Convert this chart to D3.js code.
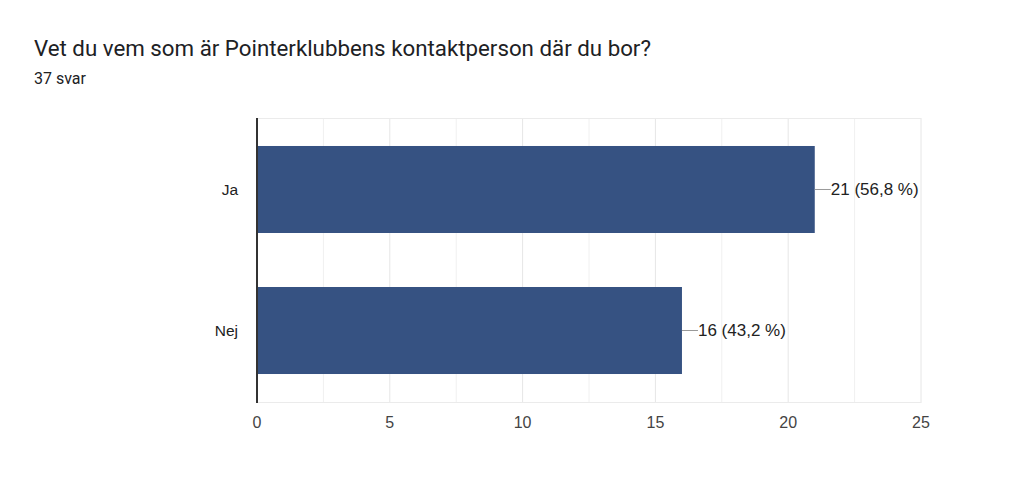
<!DOCTYPE html>
<html><head><meta charset="utf-8">
<script src="https://cdn.jsdelivr.net/npm/d3@7"></script>
<style>body{margin:0;background:#fff;}</style>
</head><body>
<svg id="c" width="1024" height="487"></svg>
<script>
const categories = ["Ja", "Nej"];
const values = [21, 16];
const labels = ["21 (56,8 %)", "16 (43,2 %)"];
const xTicks = [0, 5, 10, 15, 20, 25];
const gridTicks = [2.5, 5, 7.5, 10, 12.5, 15, 17.5, 20, 22.5, 25];
const title = "Vet du vem som är Pointerklubbens kontaktperson där du bor?";
const subtitle = "37 svar";

const svg = d3.select("#c");
svg.append("rect").attr("width",1024).attr("height",487).attr("fill","#fff");
svg.append("text").attr("x",34).attr("y",56).attr("font-family","Roboto").attr("font-size",22.3).attr("fill","#202124").text(title);
svg.append("text").attr("x",34).attr("y",84).attr("font-family","Roboto").attr("font-size",16).attr("fill","#202124").text(subtitle);

const L=257, R=921, T=118, B=403;
const x = d3.scaleLinear().domain([0,25]).range([L,R]);
const y = d3.scaleBand().domain(categories).range([119.2,400.8]).paddingInner(0.383).paddingOuter(0.19);

const g = svg.append("g");
g.selectAll("line.grid").data(gridTicks).join("line").attr("class","grid")
  .attr("x1",d=>x(d)).attr("x2",d=>x(d)).attr("y1",T).attr("y2",B)
  .attr("stroke",d=>d%5===0?"#e6e6e6":"#f0f0f0").attr("stroke-width",1);
g.append("line").attr("x1",L).attr("x2",R).attr("y1",T+0.5).attr("y2",T+0.5).attr("stroke","#ebebeb");
g.append("line").attr("x1",L).attr("x2",R).attr("y1",B-0.5).attr("y2",B-0.5).attr("stroke","#ebebeb");

g.selectAll("rect.bar").data(values).join("rect").attr("class","bar")
  .attr("x",x(0)).attr("y",(d,i)=>y(categories[i]))
  .attr("width",d=>x(d)-x(0)).attr("height",y.bandwidth())
  .attr("fill","#365282");

g.selectAll("line.lead").data(values).join("line").attr("class","lead")
  .attr("x1",d=>x(d)).attr("x2",d=>x(d)+16)
  .attr("y1",(d,i)=>y(categories[i])+y.bandwidth()/2).attr("y2",(d,i)=>y(categories[i])+y.bandwidth()/2)
  .attr("stroke","#999").attr("stroke-width",1);
g.selectAll("text.val").data(values).join("text").attr("class","val")
  .attr("x",d=>x(d)+16).attr("y",(d,i)=>y(categories[i])+y.bandwidth()/2)
  .attr("dy","0.35em").attr("font-family","Liberation Sans, Arial").attr("font-size",17).attr("fill","#222")
  .text((d,i)=>labels[i]);

g.selectAll("text.cat").data(categories).join("text").attr("class","cat")
  .attr("x",238).attr("y",d=>y(d)+y.bandwidth()/2).attr("dy","0.35em")
  .attr("text-anchor","end").attr("font-family","Liberation Sans, Arial").attr("font-size",15.5).attr("fill","#222")
  .text(d=>d);

g.selectAll("text.tick").data(xTicks).join("text").attr("class","tick")
  .attr("x",d=>x(d)).attr("y",428).attr("text-anchor","middle")
  .attr("font-family","Liberation Sans, Arial").attr("font-size",16).attr("fill","#444")
  .text(d=>d);

g.append("line").attr("x1",L).attr("x2",L).attr("y1",T).attr("y2",B).attr("stroke","#333").attr("stroke-width",2);
</script>
</body></html>
